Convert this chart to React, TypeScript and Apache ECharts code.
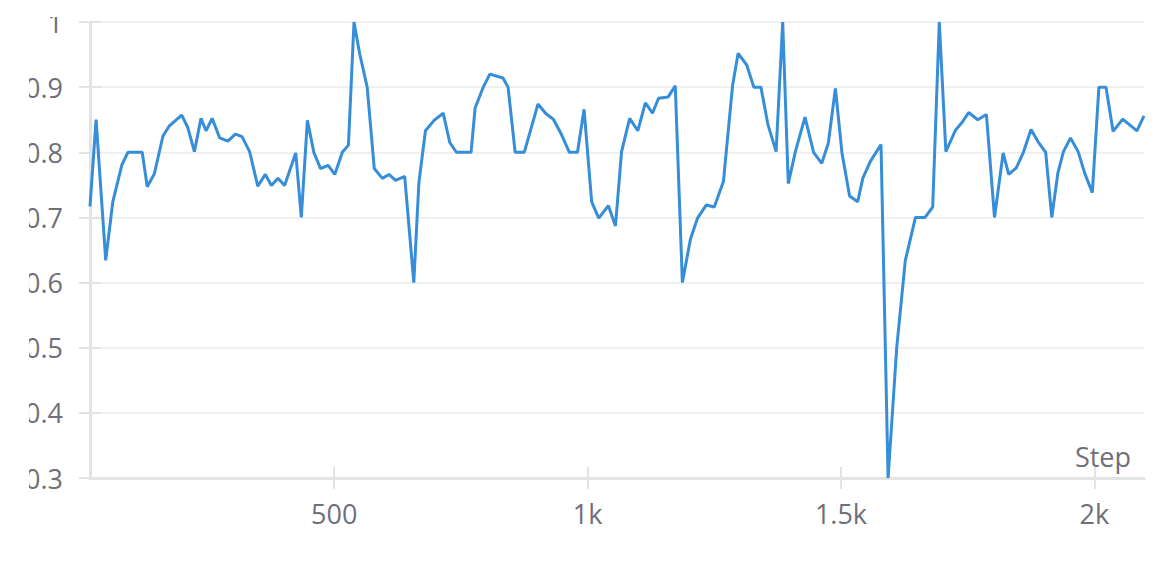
import React, { useEffect, useRef } from "react";
import * as echarts from "echarts";

const steps = [
  18, 30, 49, 63, 81, 93, 121, 131, 145, 162, 174, 199, 211, 224, 237, 247, 259, 274, 290, 305, 318,
  333, 349, 364, 376, 389, 402, 424, 435, 447, 460, 473, 488, 501, 516, 528, 539, 550, 565, 579, 595,
  608, 621, 639, 657, 667, 680, 697, 715, 728, 741, 770, 778, 793, 807, 833, 843, 857, 875, 902, 917,
  932, 948, 964, 980, 993, 1008, 1022, 1041, 1055, 1067, 1083, 1099, 1114, 1128, 1140, 1159, 1173,
  1187, 1203, 1217, 1234, 1250, 1268, 1286, 1297, 1314, 1328, 1342, 1356, 1372, 1385, 1396, 1410,
  1429, 1446, 1462, 1475, 1489, 1502, 1517, 1533, 1543, 1558, 1579, 1593, 1610, 1627, 1647, 1666,
  1681, 1694, 1707, 1726, 1740, 1752, 1770, 1787, 1803, 1820, 1831, 1846, 1860, 1875, 1889, 1904,
  1916, 1928, 1939, 1953, 1968, 1981, 1996, 2009, 2023, 2037, 2056, 2084, 2098,
];

const values = [
  0.717, 0.85, 0.634, 0.724, 0.781, 0.8, 0.8, 0.747, 0.767, 0.825, 0.84, 0.857, 0.838, 0.801, 0.852,
  0.833, 0.852, 0.822, 0.817, 0.828, 0.824, 0.801, 0.748, 0.766, 0.749, 0.76, 0.749, 0.799, 0.7,
  0.849, 0.799, 0.775, 0.78, 0.766, 0.8, 0.811, 1.0, 0.952, 0.9, 0.775, 0.76, 0.766, 0.757, 0.763,
  0.6, 0.753, 0.833, 0.849, 0.86, 0.815, 0.8, 0.8, 0.868, 0.898, 0.92, 0.914, 0.9, 0.8, 0.8, 0.874,
  0.86, 0.851, 0.828, 0.8, 0.8, 0.866, 0.724, 0.699, 0.718, 0.687, 0.801, 0.852, 0.833, 0.876, 0.86,
  0.883, 0.885, 0.902, 0.6, 0.667, 0.699, 0.719, 0.716, 0.755, 0.902, 0.952, 0.934, 0.9, 0.9, 0.842,
  0.801, 1.0, 0.752, 0.801, 0.854, 0.8, 0.783, 0.814, 0.898, 0.799, 0.733, 0.724, 0.76, 0.786, 0.812,
  0.3, 0.5, 0.634, 0.7, 0.7, 0.716, 1.0, 0.801, 0.834, 0.847, 0.861, 0.85, 0.858, 0.7, 0.799, 0.766,
  0.776, 0.8, 0.835, 0.816, 0.8, 0.7, 0.768, 0.801, 0.822, 0.801, 0.768, 0.738, 0.9, 0.9, 0.832,
  0.851, 0.833, 0.856,
];

const xTicks = [500, 1000, 1500, 2000];
const yMin = 0.3;
const yMax = 1.0;
const xMin = 18;
const xMax = 2098;

const labelColor = "#6f6f7a";
const axisColor = "#e3e3e5";
const gridColor = "#ebebec";
const lineColor = "#368dd8";
const font = "'Open Sans', 'Noto Sans', sans-serif";

export default function App() {
  const ref = useRef<HTMLDivElement>(null);

  useEffect(() => {
    if (!ref.current) return;
    const chart = echarts.init(ref.current, undefined, { renderer: "svg" });
    const data = steps.map((s, i) => [s, values[i]]);
    const fmtX = (v: number) => (v >= 1000 ? `${v / 1000}k` : String(v));

    chart.setOption({
      animation: false,
      backgroundColor: "#ffffff",
      grid: {
        left: 61,
        right: 19,
        top: 5,
        bottom: 83,
        containLabel: false,
        outerBoundsMode: "none",
      },
      xAxis: [
        {
          type: "value",
          min: xMin,
          max: xMax,
          position: "bottom",
          name: "Step",
          nameLocation: "end",
          nameGap: -13,
          nameTextStyle: {
            color: labelColor,
            fontSize: 27,
            fontFamily: font,
            align: "right",
            verticalAlign: "bottom",
            padding: [0, 0, 8, 0],
          },
          axisLine: { show: true, lineStyle: { color: axisColor, width: 3 } },
          axisTick: {
            show: true,
            inside: false,
            length: 11,
            customValues: xTicks,
            lineStyle: { color: axisColor, width: 2 },
          },
          axisLabel: {
            show: true,
            customValues: xTicks,
            margin: 22,
            color: labelColor,
            fontSize: 27,
            fontFamily: font,
            formatter: fmtX,
          },
          splitLine: { show: false },
        },
        {
          type: "value",
          min: xMin,
          max: xMax,
          position: "bottom",
          axisLine: { show: false },
          axisTick: {
            show: true,
            inside: true,
            length: 11,
            customValues: xTicks,
            lineStyle: { color: axisColor, width: 2 },
          },
          axisLabel: { show: false },
          splitLine: { show: false },
        },
      ],
      yAxis: [
        {
          type: "value",
          min: yMin,
          max: yMax,
          interval: 0.1,
          position: "left",
          axisLine: { show: true, lineStyle: { color: axisColor, width: 3 } },
          axisTick: { show: true, inside: false, length: 11, lineStyle: { color: axisColor, width: 2 } },
          axisLabel: {
            margin: 27,
            color: labelColor,
            fontSize: 27,
            fontFamily: font,
          },
          splitLine: { show: true, lineStyle: { color: gridColor, width: 1.5 } },
        },
        {
          type: "value",
          min: yMin,
          max: yMax,
          interval: 0.1,
          position: "left",
          axisLine: { show: false },
          axisTick: { show: true, inside: true, length: 11, lineStyle: { color: axisColor, width: 2 } },
          axisLabel: { show: false },
          splitLine: { show: false },
        },
      ],
      series: [
        {
          type: "line",
          xAxisIndex: 0,
          yAxisIndex: 0,
          data,
          showSymbol: false,
          symbol: "none",
          smooth: false,
          lineStyle: { color: lineColor, width: 3 },
          z: 5,
        },
      ],
    });

    return () => chart.dispose();
  }, []);

  return (
    <div
      ref={ref}
      style={{
        position: "absolute",
        left: 29,
        top: 17,
        width: 1134,
        height: 544,
        overflow: "hidden",
      }}
    />
  );
}
